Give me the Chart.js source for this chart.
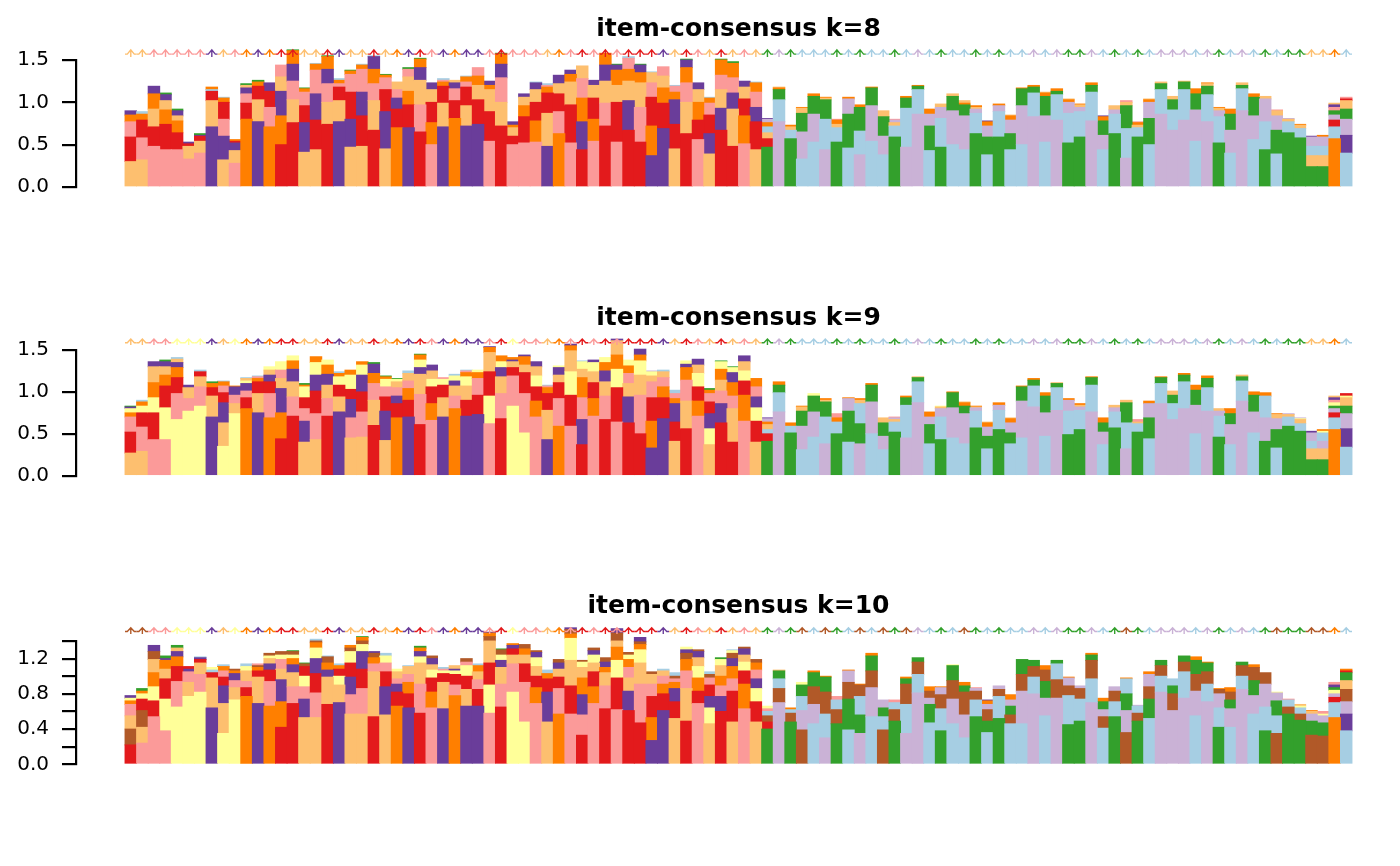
<!DOCTYPE html>
<html>
<head>
<meta charset="utf-8">
<script src="https://cdn.jsdelivr.net/npm/chart.js@4.4.1/dist/chart.umd.min.js"></script>
<style>
html,body{margin:0;padding:0;background:#fff;width:1400px;height:866px;overflow:hidden}
.p{position:absolute;left:0;width:1400px;height:289px}
canvas{display:block}
</style>
</head>
<body>
<div class="p" style="top:0"><canvas id="c0" width="1400" height="289"></canvas></div>
<div class="p" style="top:289px"><canvas id="c1" width="1400" height="289"></canvas></div>
<div class="p" style="top:577px"><canvas id="c2" width="1400" height="289"></canvas></div>
<script>
// ---- cluster colour codes ----
const palette = {
  B: '#A6CEE3', G: '#33A02C', P: '#FB9A99', R: '#E31A1C', L: '#FDBF6F',
  O: '#FF7F00', V: '#CAB2D6', U: '#6A3D9A', Y: '#FFFF99', N: '#B15928'
};

// ---- panel titles & y ticks ----
const panelTitles = ['item-consensus k=8', 'item-consensus k=9', 'item-consensus k=10'];
const yMaxes = [1.5, 1.5, 1.4];
const yTickValues = [[0, 0.5, 1, 1.5], [0, 0.5, 1, 1.5], [0, 0.2, 0.4, 0.6, 0.8, 1.0, 1.2, 1.4]];
const yTickLabels = [['0.0', '0.5', '1.0', '1.5'], ['0.0', '0.5', '1.0', '1.5'], ['0.0', '', '0.4', '', '0.8', '', '1.2', '']];

// ---- cluster membership of each item (arrow colours) ----
const k8Members = 'LLPPPPPULPOUORRLLRULLRLOURPU' + 'OUUPRPPPLOPRPRPRRRULRPLRLPLGVGBBBGBGB' + 'BGBVBGBBGBGBBVBVGGVBGBGBVVVBVGBVBGBGGLLOB';
const k9Members = 'LLPPYYYULYOUORRLLRULLRLOURPU' + 'OUUPRYPPLOPRPRPRRRULRPLRLPLGVGBBBGBGB' + 'BGBVBGBBGBGBBVBVGGVBGBGBVVVBVGBVBGBGGLLOB';
const k10Members = 'NNPPYYYULYOUORRLLRULLRLOURPU' + 'OUUPRYPPLOPRPRPRRRULRPLRLPLGVGNBNGBNB' + 'NGNVBGBNGBGBBVBVGGVBGNGBVVVBVGBVBGNGGNNOB';

// ---- k=8: stacked clusters (bottom -> top) and cumulative segment tops ----
const k8Clusters = ['LRPOU','LPROB','PRLOU','PROLUG','PROLUG','PLRU','PLRUG','ULRBO','LUPROB','PLURO',
'ORPULG','ULROG','OPRU','ROULP','RLPUOG','LURPOG','LRUPOB','RLPUOG','ULRPOB','LURPOG',
'LRUPOB','RLPOUB','LURPOG','ORUPL','UROLPG','RPLUOG','PORLU','ULROPB','ORPUL','ULRPOB',
'URLOP','PRLOU','RLPUOG','PRLOU','PROLU','PORLUB','ULROPB','OPRLU','PRLOU','RUOPL',
'PORLU','RPLUO','PRLOUG','RULOPB','RPLOUG','UORPLB','UROLP','LRUOPB','RLPOUG','PROLU',
'LURPOB','RULPOG','RLUPOG','PORLU','LRUPOB','GRLBOVU','VBGOL','GBLO','BVGLO','BVGO',
'VBGLO','GBLOP','BGVO','VBGO','BVGO','BVGL','GBLVP','VBGO','VBGO','BGVO',
'GBVL','BVGL','BVGOL','GBVLO','BGVOU','GBVO','BGVOL','BVGO','VBGO','BVGOL',
'VBGO','GBVOL','GBVLO','VBGO','BVGOU','GBVL','VBGLP','GBLOP','BGVOL','VBGL',
'VBGL','VBGL','BVGO','VBGLO','GBVLO','BVGO','VBGL','BVGO','GBVL','BGVLP',
'GBLV','GBLO','GLBVU','GLBVO','OBRVGPUL','BUVGLRP'];
const k8Tops = [[.30,.59,.77,.85,.90],[.32,.58,.79,.86,.89],[.48,.71,.92,1.10,1.19],[.44,.74,.91,1.02,1.09,1.11],[.44,.64,.78,.84,.90,.92],
[.33,.48,.51,.53],[.40,.54,.60,.61,.63],[.71,1.02,1.13,1.15,1.18],[.32,.60,.80,1.00,1.05,1.06],[.28,.43,.52,.54,.56],
[.80,.99,1.10,1.17,1.20,1.22],[.77,1.03,1.19,1.24,1.26],[.71,.94,1.13,1.23],[.50,.84,1.13,1.30,1.44],[.76,1.03,1.25,1.45,1.61,1.62],
[.41,.76,.96,1.12,1.16,1.17],[.44,.79,1.10,1.38,1.45,1.46],[.74,1.00,1.22,1.39,1.54,1.55],[.77,1.02,1.18,1.22,1.26,1.28],[.47,.80,1.12,1.33,1.37,1.38],
[.48,.84,1.12,1.39,1.44,1.45],[.67,1.02,1.22,1.39,1.54,1.55],[.45,.89,1.15,1.29,1.32,1.33],[.70,.92,1.05,1.15,1.24],[.70,.97,1.13,1.30,1.39,1.41],
[.65,.97,1.26,1.41,1.51,1.52],[.50,.76,1.00,1.15,1.23],[.71,.99,1.19,1.24,1.26,1.28],[.81,1.02,1.16,1.23,1.26],[.72,.96,1.18,1.24,1.30,1.31],
[.74,1.03,1.20,1.31,1.41],[.54,.89,1.15,1.20,1.25],[.72,1.00,1.29,1.45,1.57,1.58],[.50,.60,.70,.73,.77],[.52,.83,.96,1.06,1.10],
[.53,.78,1.00,1.15,1.23,1.24],[.48,.87,1.11,1.18,1.20,1.22],[.63,.89,1.10,1.22,1.32],[.52,.97,1.24,1.33,1.38],[.44,.77,1.05,1.28,1.43],
[.54,.80,1.05,1.20,1.26],[.72,.99,1.25,1.44,1.58],[.53,1.00,1.20,1.38,1.44,1.45],[.67,1.02,1.25,1.39,1.52,1.54],[.53,.94,1.23,1.35,1.44,1.45],
[.37,.72,1.06,1.23,1.35,1.36],[.69,.99,1.17,1.31,1.42],[.45,.74,1.03,1.12,1.19,1.20],[.63,1.00,1.23,1.41,1.50,1.51],[.56,.79,1.00,1.15,1.23],
[.39,.63,.85,.99,1.05,1.06],[.67,.93,1.15,1.32,1.50,1.51],[.48,.92,1.11,1.29,1.46,1.48],[.51,.84,1.04,1.18,1.25],[.44,.77,.94,1.12,1.23,1.24],
[.47,.57,.64,.71,.76,.80,.81],[.77,1.03,1.15,1.17,1.18],[.57,.67,.71,.73],[.33,.65,.87,.93,.94],[.53,.86,1.07,1.10],
[.44,.80,1.03,1.05,1.06],[.53,.70,.74,.79,.80],[.46,.86,1.04,1.06],[.38,.66,.94,.97],[.54,.96,1.17,1.18],
[.38,.60,.83,.90],[.59,.72,.76,.79,.80],[.47,.93,1.05,1.07],[.86,1.15,1.19,1.20],[.43,.72,.86,.92],
[.47,.81,.94,.98],[.50,.90,1.07,1.10],[.44,.84,.97,.99,1.02],[.63,.87,.92,.94,.96],[.38,.59,.72,.77,.78],
[.59,.89,.96,.98],[.44,.63,.79,.84,.85],[.50,.96,1.16,1.17],[.83,1.11,1.18,1.20],[.53,.84,1.07,1.11,1.12],
[.79,1.09,1.13,1.16],[.52,.87,1.00,1.03,1.04],[.59,.89,.94,.97,.98],[.78,1.12,1.20,1.23],[.44,.61,.78,.83,.84],
[.63,.86,.91,.96],[.34,.69,.96,1.00,1.02],[.59,.70,.73,.76,.77],[.50,.81,1.00,1.03,1.04],[.86,1.15,1.22,1.24],
[.67,.91,1.03,1.07],[.79,1.15,1.24,1.25],[.54,.91,1.10,1.16],[.77,1.09,1.19,1.22,1.23],[.52,.83,.90,.93,.94],
[.40,.67,.86,.92],[.90,1.16,1.20,1.23],[.56,.84,1.06,1.10],[.44,.77,1.04,1.07],[.39,.67,.84,.90,.91],
[.64,.77,.80,.81],[.58,.69,.73,.74],[.24,.37,.48,.59,.60],[.24,.37,.48,.59,.61],[.57,.71,.79,.85,.90,.94,.97,.99],
[.40,.61,.80,.92,1.02,1.04,1.06]];

// ---- k=9 ----
const k9Clusters = ['LRPOYUG','LPRYOB','PRYOLU','PYROLUG','YPROULB','YPLU','YPLRB','ULROG','YLURPOB','YLPUO',
'ORPUYLB','ULROPB','OPRULY','ROULPY','RPLUOY','LUPRYOG','LPRUYO','RPLUOY','ULRYOB','LPURYO',
'LPRUYO','RLPOUG','LURPYOG','ORUPLYG','UROPLB','RPLUYOG','PORYLU','ULRYP','OPLUYB','URLYOPB',
'URPOY','PYRLOU','RPLUYO','YPRLUO','YPRLOU','PORYLU','ULROPB','OPRLUY','PRYLOU','RUPOLYB',
'PORLYU','RPLUOY','PRYOLU','RULPOY','RPLYOU','UORPLYV','UROPLB','LRUOPB','RLPOUY','PORYLU',
'LYURPOG','RUPLOYG','RLPOUYG','PORYLU','LRYUPO','GRBLOVU','VBGO','GBO','BVGLO','BVGY',
'VBGLO','GBOP','BGVO','VGBLO','BVGO','BVGL','GBLVP','VBGO','VBGL','BGVO',
'GBVLY','BVGO','BVGOL','GBVLO','BGVOL','GBVO','BGVOL','BVGO','VBGO','BVGO',
'VBGL','GBVO','GBVLO','VBGO','BVGO','GBVL','VBGL','GBLP','BGVO','VBGO',
'VBGL','VBGO','BVGO','VBGO','GBVL','BVGO','VBGL','BVGO','GVBO','BGVLO',
'GBLV','GBLYV','GLBVU','GLVBYO','OBRVGYPUL','BUVGLYR'];
const k9Tops = [[.27,.52,.70,.75,.80,.82,.83],[.29,.58,.75,.83,.88,.90],[.43,.75,.93,1.11,1.30,1.36],[.43,.81,1.07,1.20,1.30,1.36,1.38],[.67,.98,1.17,1.29,1.35,1.39,1.41],
[.77,.92,1.05,1.08],[.83,1.06,1.18,1.24,1.26],[.70,.95,1.05,1.10,1.12],[.35,.63,.87,.99,1.07,1.12,1.13],[.74,.86,.96,1.06,1.07],
[.80,.93,1.01,1.10,1.13,1.16,1.17],[.75,.98,1.12,1.16,1.18,1.19],[.69,.98,1.12,1.20,1.26,1.30],[.44,.75,1.04,1.16,1.26,1.36],[.71,.94,1.12,1.27,1.37,1.43],
[.40,.65,.80,.93,1.06,1.08,1.10],[.43,.74,1.01,1.20,1.35,1.42],[.71,.92,1.08,1.21,1.32,1.38],[.76,.94,1.08,1.18,1.22,1.24],[.45,.69,.91,1.03,1.20,1.26],
[.46,.76,1.00,1.20,1.32,1.36],[.60,.90,1.10,1.22,1.33,1.35],[.42,.77,.94,1.06,1.15,1.18,1.19],[.69,.86,.95,1.05,1.12,1.15,1.16],[.70,.90,1.04,1.13,1.22,1.25],
[.61,.97,1.21,1.29,1.38,1.44,1.45],[.66,.86,1.06,1.15,1.25,1.32],[.70,.93,1.08,1.15,1.17],[.80,.95,1.07,1.13,1.19,1.21],[.71,.90,1.07,1.18,1.23,1.25,1.26],
[.73,.96,1.16,1.23,1.26],[.62,.95,1.24,1.47,1.53,1.54],[.68,.98,1.18,1.29,1.36,1.43],[.83,1.19,1.29,1.36,1.38,1.41],[.51,.98,1.23,1.32,1.42,1.44],
[.70,.89,1.06,1.19,1.30,1.36],[.43,.78,.98,1.05,1.07,1.08],[.59,.92,1.11,1.20,1.29,1.31],[.59,.96,1.24,1.49,1.55,1.57],[.37,.67,.93,1.17,1.27,1.36,1.37],
[.71,.92,1.11,1.24,1.35,1.38],[.67,.95,1.12,1.25,1.35,1.41],[.64,1.05,1.27,1.44,1.61,1.63],[.63,.94,1.10,1.22,1.31,1.38],[.50,.96,1.20,1.37,1.44,1.51],
[.33,.65,.93,1.12,1.19,1.24,1.25],[.68,.93,1.06,1.17,1.24,1.26],[.41,.64,.86,.92,.98,1.02],[.56,.89,1.14,1.29,1.33,1.37],[.71,.89,1.06,1.22,1.32,1.39],
[.37,.56,.74,.88,.98,1.02,1.04],[.63,.86,1.01,1.14,1.27,1.36,1.37],[.40,.80,.95,1.11,1.23,1.29,1.30],[.65,.96,1.13,1.25,1.36,1.43],[.40,.65,.81,.94,1.06,1.16],
[.41,.50,.55,.61,.64,.68,.69],[.76,.99,1.08,1.12],[.51,.59,.63],[.31,.59,.77,.82,.83],[.46,.76,.95,.98],
[.38,.70,.88,.90,.92],[.50,.64,.69,.74],[.40,.77,.92,.93],[.38,.62,.86,.90,.92],[.50,.88,1.08,1.10],
[.31,.47,.63,.69],[.52,.64,.67,.69,.70],[.45,.84,.93,.95],[.87,1.12,1.17,1.18],[.38,.61,.70,.76],
[.43,.70,.80,.82,.83],[.45,.81,.99,1.00],[.38,.74,.83,.87,.88],[.57,.77,.81,.82,.83],[.32,.47,.58,.63,.64],
[.55,.78,.84,.87],[.38,.51,.63,.68,.69],[.45,.89,1.06,1.07],[.82,1.07,1.14,1.16],[.47,.75,.95,.99],
[.78,1.05,1.10,1.11],[.49,.77,.90,.92],[.55,.78,.82,.84,.86],[.76,1.08,1.17,1.18],[.37,.52,.63,.69],
[.57,.76,.81,.84],[.32,.63,.87,.90],[.52,.62,.64,.67],[.44,.69,.86,.89],[.86,1.10,1.17,1.18],
[.67,.86,.96,1.01],[.80,1.12,1.20,1.22],[.50,.84,1.02,1.08],[.77,1.05,1.16,1.19],[.46,.71,.77,.80],
[.37,.61,.74,.80],[.89,1.13,1.18,1.20],[.51,.76,.96,1.00],[.41,.69,.95,.99],[.33,.55,.68,.73,.74],
[.59,.70,.73,.74],[.53,.62,.67,.68,.69],[.19,.32,.41,.51,.53],[.19,.32,.41,.51,.53,.55],[.55,.69,.75,.80,.83,.87,.90,.93,.95],
[.34,.56,.74,.83,.93,.95,.98]];

// ---- k=10 ----
const k10Clusters = ['RNLPOYU','PLNRYOG','PRYOLNU','PYRLOUG','YPROULG','YLPUR','YPLRUB','ULRBY','YLURPOB','YLPUON',
'ORPLYB','ULRONP','OPRULYN','ROULPYN','RPLUOYNG','LUPYRNG','LPRUYONB','RLUONB','ULYROB','LPURYNO',
'LPRUYNOG','RLPONU','LURPYB','ORUPLY','UROPLB','RPLYUOG','PORYLUN','ULRYPB','OPRYUL','ULRYPN',
'URPLOB','PYRLNOU','RPLUYNG','YPLRUO','YPRLON','PORLYUN','LUROB','OPRLUN','PRLYONU','RPUOLYN',
'PORLYUN','RPLOUN','PRYOLNU','RULPOYN','RPLYONU','UORPLN','UROPLB','LRUOPNB','RLPONUY','PROYLUN',
'LYURPNB','RUPOLYG','LRPOUNYB','PORYLUN','LRYUPON','GRNBPY','VNBGL','GNBO','NVBGY','BVNGO',
'VBNGO','GNBP','BGNVO','VGBNO','BVNGO','NBGV','GNBP','VBNGO','VBNG','BGVNO',
'GBNVO','BVNGY','BVNGO','GBNVP','BGNVOU','GBNV','BNGVO','BVNG','VBNG','BVGNO',
'VNBG','GBNVO','GBNV','VBNGO','BNVGO','GBNV','NVGBO','GNBV','BGNVO','VBNG',
'VNGB','VBNG','BVNGO','VBNGO','GBVNO','BVGNO','VBNG','BVGNO','GBVN','NBGVY',
'GNBP','GNBYL','NGVLO','NGVYP','OBRVYGUP','BUVNLGRO'];
const k10Tops = [[.22,.40,.55,.68,.72,.75,.78],[.24,.42,.61,.74,.80,.83,.86],[.54,.72,.88,1.04,1.19,1.28,1.35],[.38,.74,.97,1.08,1.18,1.20,1.23],[.65,.94,1.11,1.22,1.28,1.32,1.35],
[.77,.93,1.05,1.08,1.11],[.82,1.02,1.15,1.19,1.21,1.22],[.64,.98,1.04,1.07,1.10],[.35,.69,.89,.99,1.06,1.11,1.13],[.73,.87,.95,1.03,1.06,1.08],
[.77,.87,.94,1.06,1.11,1.14],[.69,.99,1.06,1.10,1.12,1.14],[.66,.94,1.07,1.14,1.20,1.23,1.26],[.42,.71,.96,1.08,1.19,1.24,1.28],[.69,.88,1.04,1.13,1.20,1.24,1.28,1.29],
[.53,.74,.88,1.00,1.11,1.14,1.15],[.53,.81,1.03,1.20,1.32,1.38,1.40,1.42],[.68,.99,1.07,1.15,1.22,1.23],[.70,.90,1.00,1.08,1.12,1.14],[.57,.79,.99,1.15,1.28,1.32,1.35],
[.57,.86,1.08,1.28,1.36,1.40,1.44,1.45],[.54,1.05,1.14,1.21,1.26,1.28],[.56,.88,1.05,1.15,1.23,1.26],[.66,.82,.91,.97,1.05,1.08],[.64,.80,.93,1.02,1.11,1.12],
[.58,.91,1.15,1.22,1.28,1.32,1.34],[.64,.82,.98,1.07,1.13,1.20,1.23],[.63,.93,1.03,1.06,1.08,1.10],[.78,.90,1.02,1.06,1.08,1.12],[.66,.85,1.00,1.12,1.16,1.20],
[.66,.85,.96,1.05,1.12,1.14],[.58,.90,1.15,1.40,1.45,1.49,1.50],[.65,.91,1.10,1.18,1.24,1.30,1.31],[.82,1.14,1.24,1.31,1.35,1.37],[.48,.93,1.14,1.24,1.31,1.36],
[.69,.87,1.00,1.11,1.21,1.27,1.29],[.48,.82,.97,1.03,1.07],[.57,.86,.99,1.08,1.15,1.19],[.57,.89,1.18,1.43,1.48,1.53,1.55],[.33,.56,.79,.98,1.10,1.16,1.18],
[.69,.88,1.05,1.15,1.24,1.29,1.32],[.63,.89,1.04,1.10,1.16,1.21],[.62,.98,1.18,1.33,1.40,1.49,1.54],[.61,.83,.98,1.10,1.19,1.24,1.27],[.47,.91,1.15,1.30,1.36,1.39,1.44],
[.27,.53,.77,.91,1.02,1.05],[.61,.80,.91,1.00,1.06,1.08],[.52,.71,.86,.93,.97,1.00,1.04],[.49,.86,1.06,1.19,1.26,1.30,1.33],[.69,.83,.98,1.11,1.21,1.28,1.30],
[.46,.64,.77,.90,.98,1.02,1.05],[.60,.77,.89,1.00,1.12,1.19,1.21],[.48,.83,.97,1.11,1.20,1.26,1.29,1.30],[.63,.91,1.06,1.16,1.24,1.31,1.33],[.48,.71,.86,.97,1.07,1.15,1.19],
[.40,.48,.55,.60,.63,.66],[.70,.86,.97,1.06,1.07],[.48,.58,.62,.64],[.39,.61,.77,.90,.93],[.46,.68,.88,1.04,1.06],
[.30,.57,.82,.99,1.00],[.46,.62,.73,.77],[.39,.74,.93,1.06,1.07],[.35,.56,.77,.90,.91],[.54,.87,1.06,1.23,1.26],
[.39,.54,.64,.73],[.49,.62,.70,.73],[.35,.68,.91,.97,.99],[.81,1.02,1.16,1.21],[.47,.68,.75,.83,.88],
[.38,.63,.79,.87,.88],[.46,.74,.95,1.12,1.13],[.30,.56,.82,.89,.93],[.54,.73,.83,.86,.87],[.36,.49,.62,.68,.72,.73],
[.52,.77,.85,.89],[.46,.56,.66,.73,.79],[.46,.83,1.02,1.19],[.80,.99,1.11,1.18],[.55,.75,.94,1.07,1.12],
[.75,.96,1.14,1.18],[.45,.78,.89,.98,.99],[.49,.74,.86,.89],[.70,.97,1.18,1.24,1.26],[.41,.54,.62,.71,.75],
[.54,.71,.83,.88],[.36,.61,.80,.97,.98],[.49,.58,.66,.67],[.52,.74,.88,1.02,1.05],[.82,1.00,1.12,1.18],
[.61,.80,.89,.97],[.75,1.05,1.16,1.23],[.55,.83,1.02,1.18,1.22],[.71,.91,1.05,1.15,1.16],[.42,.64,.80,.85,.86],
[.42,.63,.73,.82,.87],[.85,1.00,1.12,1.16],[.57,.78,.95,1.10,1.13],[.38,.65,.91,1.04],[.35,.55,.72,.81,.82],
[.57,.65,.73,.74],[.50,.57,.64,.66,.68],[.33,.49,.57,.60,.61],[.32,.47,.55,.57,.60],[.53,.70,.76,.80,.84,.87,.90,.93],
[.38,.57,.71,.85,.95,1.04,1.06,1.08]];

// arrow marker levels (data units) per panel
const arrowTips = [1.62, 1.63, 1.55];
const arrowBases = [1.535, 1.56, 1.48];

const panels = [
  {clusters: k8Clusters, tops: k8Tops, members: k8Members},
  {clusters: k9Clusters, tops: k9Tops, members: k9Members},
  {clusters: k10Clusters, tops: k10Tops, members: k10Members}
];
const padTop = [60, 61, 64];
const padBottom = [102, 102.3, 101.7];

function buildDatasets(clusters, tops) {
  const layers = Math.max(...clusters.map(c => c.length));
  const sets = [];
  for (let j = 0; j < layers; j++) {
    const data = [], colors = [];
    clusters.forEach((c, i) => {
      const n = Math.min(c.length, tops[i].length);
      if (j < n) {
        const lo = j === 0 ? 0 : tops[i][j - 1];
        data.push({x: i + 0.5, y: [lo, tops[i][j]]});
        colors.push(palette[c[j]]);
      }
    });
    sets.push({
      data, backgroundColor: colors, borderWidth: 0, borderSkipped: false,
      grouped: false, clip: false, inflateAmount: 0.45,
      barPercentage: 1, categoryPercentage: 1
    });
  }
  return sets;
}

const decorPlugin = {
  id: 'consensusDecor',
  afterDatasetsDraw(chart, args, opts) {
    const ctx = chart.ctx;
    const xs = chart.scales.x, ys = chart.scales.y;
    const tipY = ys.getPixelForValue(opts.tip);
    const baseY = ys.getPixelForValue(opts.base);
    const n = opts.members.length;
    const half = (xs.getPixelForValue(1) - xs.getPixelForValue(0)) / 2;
    const wingY = tipY + (baseY - tipY) * 0.45;
    ctx.save();
    ctx.lineWidth = 1.4;
    ctx.lineCap = 'butt';
    for (let i = 0; i < n; i++) {
      const cx = xs.getPixelForValue(i + 0.5);
      ctx.strokeStyle = palette[opts.members[i]];
      ctx.beginPath();
      ctx.moveTo(cx - half, wingY + 1);
      ctx.lineTo(cx - 3.5, wingY + 1);
      ctx.lineTo(cx, tipY);
      ctx.lineTo(cx + 3.5, wingY + 1);
      ctx.lineTo(cx + half, wingY + 1);
      ctx.moveTo(cx, tipY);
      ctx.lineTo(cx, baseY);
      ctx.stroke();
    }
    // panel title, centred over the bars
    ctx.fillStyle = '#000';
    ctx.font = 'bold 25px "DejaVu Sans"';
    ctx.textAlign = 'center';
    ctx.textBaseline = 'alphabetic';
    ctx.fillText(opts.title, xs.getPixelForValue(n / 2), 35.5);
    ctx.restore();
  }
};

panels.forEach((p, k) => {
  const ticks = yTickValues[k], labels = yTickLabels[k];
  new Chart(document.getElementById('c' + k), {
    type: 'bar',
    data: { datasets: buildDatasets(p.clusters, p.tops) },
    plugins: [decorPlugin],
    options: {
      responsive: false,
      animation: false,
      events: [],
      layout: { padding: { left: 0, right: 48, top: padTop[k], bottom: padBottom[k] } },
      plugins: {
        legend: { display: false },
        tooltip: { enabled: false },
        title: { display: false },
        consensusDecor: { members: p.members, tip: arrowTips[k], base: arrowBases[k], title: panelTitles[k] }
      },
      scales: {
        x: {
          type: 'linear', min: -4.233, max: p.clusters.length,
          display: false, offset: false, grid: { display: false }
        },
        y: {
          min: 0, max: yMaxes[k],
          afterFit: s => { s.width = 76; },
          afterBuildTicks: s => { s.ticks = ticks.map(v => ({ value: v })); },
          ticks: {
            autoSkip: false, padding: 13, color: '#000',
            font: { family: 'DejaVu Sans', size: 20 },
            callback: (v, i) => labels[i]
          },
          grid: { drawOnChartArea: false, drawTicks: true, tickLength: 14, color: '#000', lineWidth: 2.2 },
          border: { display: true, color: '#000', width: 2.2 }
        }
      }
    }
  });
});
</script>
</body>
</html>
